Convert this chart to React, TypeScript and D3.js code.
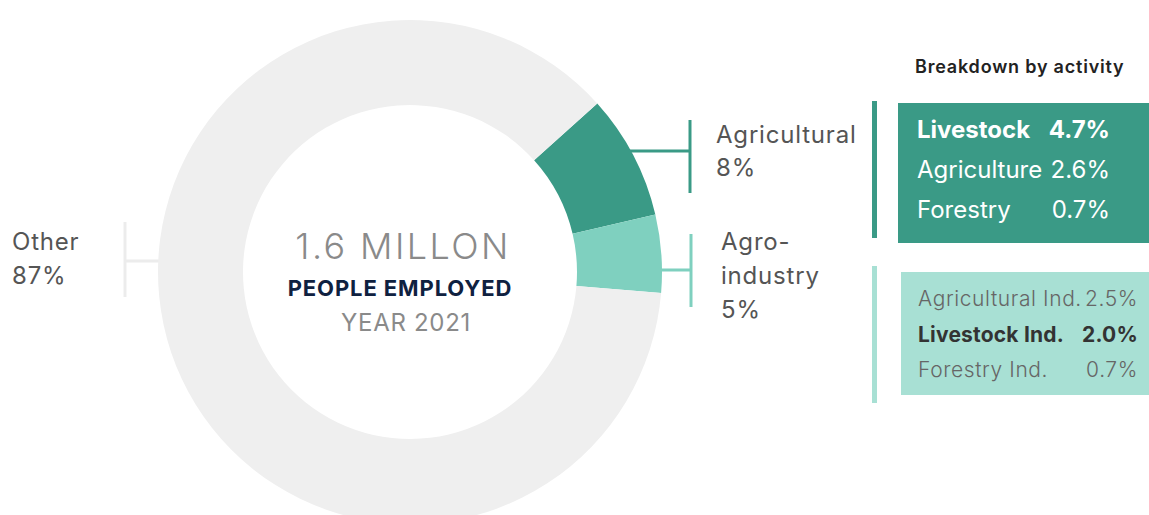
import React from "react";
import * as d3 from "d3";

// Employment share by sector (percent of 1.6 million people, 2021)
const sectors = ["Agricultural", "Agro-industry", "Other"];
const sectorValues = [8, 5, 87];
const sectorColors = ["#3a9a86", "#7fd0bf", "#efefef"];

// Breakdown by activity within the two agricultural sectors
const agriActivities = ["Livestock", "Agriculture", "Forestry"];
const agriShares = [4.7, 2.6, 0.7];
const agroActivities = ["Agricultural Ind.", "Livestock Ind.", "Forestry Ind."];
const agroShares = [2.5, 2.0, 0.7];

const W = 1149;
const H = 515;
const FONT = "Inter, 'Open Sans', 'DejaVu Sans', sans-serif";

export default function App() {
  const cx = 410;
  const cy = 272;
  const outerR = 252;
  const innerR = 167;

  const pie = d3
    .pie<number>()
    .sort(null)
    .startAngle((48 * Math.PI) / 180)
    .endAngle((48 * Math.PI) / 180 + 2 * Math.PI);
  const arcs = pie(sectorValues);
  const arc = d3.arc<d3.PieArcDatum<number>>().innerRadius(innerR).outerRadius(outerR);

  const fmt = (v: number) => `${v.toFixed(1)}%`;

  return (
    <svg
      width={W}
      height={H}
      style={{ position: "absolute", left: 0, top: 0, display: "block" }}
      fontFamily={FONT}
    >
      <rect width={W} height={H} fill="#ffffff" />

      {/* leader lines (drawn behind the ring) */}
      <g strokeWidth={3} fill="none">
        <line x1={125} x2={200} y1={261} y2={261} stroke="#ececec" />
        <line x1={125} x2={125} y1={222} y2={297} stroke="#ececec" />
        <line x1={600} x2={690} y1={151} y2={151} stroke={sectorColors[0]} />
        <line x1={690} x2={690} y1={120} y2={193} stroke={sectorColors[0]} />
        <line x1={620} x2={691} y1={270} y2={270} stroke={sectorColors[1]} />
        <line x1={691} x2={691} y1={234} y2={307} stroke={sectorColors[1]} />
      </g>

      {/* donut */}
      <g transform={`translate(${cx},${cy})`}>
        {arcs.map((a, i) => (
          <path key={sectors[i]} d={arc(a) || ""} fill={sectorColors[i]} />
        ))}
      </g>

      {/* centre text */}
      <g textAnchor="middle">
        <text x={403} y={259} fontSize={36} fontWeight={300} fill="#8a8a8a" letterSpacing={2.4}>
          1.6 MILLON
        </text>
        <text x={400} y={296} fontSize={22} fontWeight={700} fill="#0f2140" letterSpacing={0.9}>
          PEOPLE EMPLOYED
        </text>
        <text x={406} y={331} fontSize={24} fontWeight={400} fill="#8a8a8a" letterSpacing={0.7}>
          YEAR 2021
        </text>
      </g>

      {/* sector labels */}
      <g fontSize={24} fill="#555555" letterSpacing={0.8}>
        <text x={12} y={250}>{sectors[2]}</text>
        <text x={12} y={284}>{`${sectorValues[2]}%`}</text>
        <text x={716} y={143}>{sectors[0]}</text>
        <text x={716} y={176}>{`${sectorValues[0]}%`}</text>
        <text x={721} y={250}>Agro-</text>
        <text x={721} y={284}>industry</text>
        <text x={721} y={318}>{`${sectorValues[1]}%`}</text>
      </g>

      {/* breakdown panel */}
      <text x={915} y={73} fontSize={18} fontWeight={600} fill="#222222" letterSpacing={0.8}>
        Breakdown by activity
      </text>

      <rect x={872} y={101} width={5} height={137} fill={sectorColors[0]} />
      <rect x={898} y={103} width={W - 898} height={140} fill={sectorColors[0]} />
      <g fontSize={24} fill="#ffffff">
        {agriActivities.map((name, i) => (
          <g key={name} fontWeight={i === 0 ? 700 : 400}>
            <text x={917} y={138 + i * 40}>{name}</text>
            <text x={1110} y={138 + i * 40} textAnchor="end">{fmt(agriShares[i])}</text>
          </g>
        ))}
      </g>

      <rect x={872} y={266} width={5} height={137} fill="#a8e0d4" />
      <rect x={901} y={272} width={W - 901} height={123} fill="#a8e0d4" />
      <g fontSize={21}>
        {agroActivities.map((name, i) => (
          <g
            key={name}
            fontWeight={i === 1 ? 700 : 300}
            fill={i === 1 ? "#333333" : "#666666"}
            letterSpacing={i === 1 ? 0.2 : 0.6}
          >
            <text x={918} y={306 + i * 35.5}>{name}</text>
            <text x={1138} y={306 + i * 35.5} textAnchor="end">{fmt(agroShares[i])}</text>
          </g>
        ))}
      </g>
    </svg>
  );
}
